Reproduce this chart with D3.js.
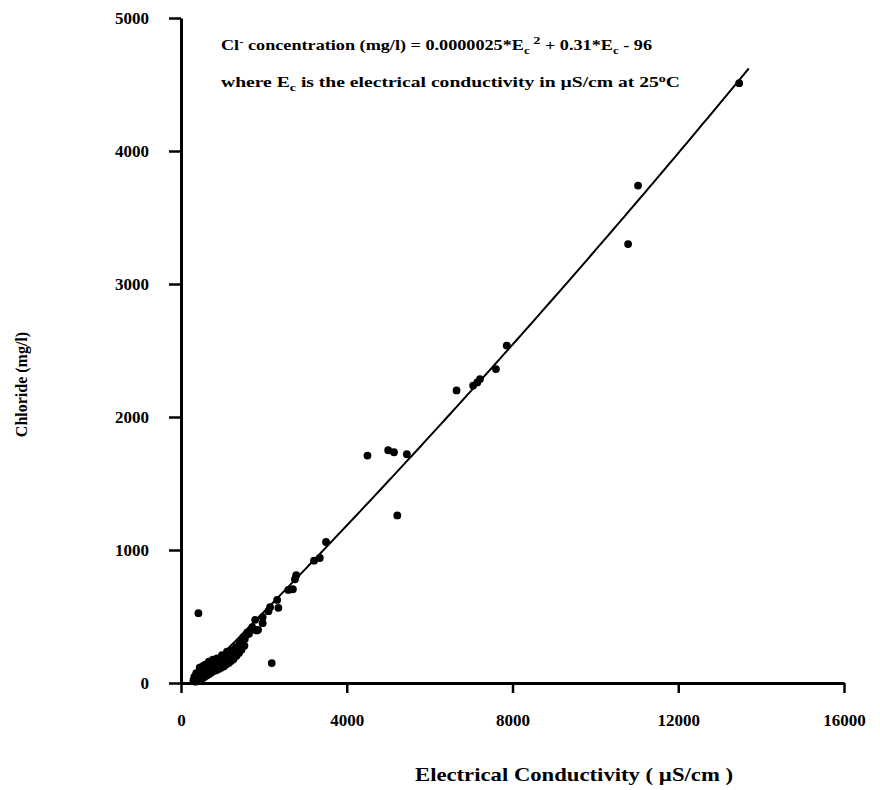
<!DOCTYPE html>
<meta charset="utf-8">
<head>
	<title> Chloride vs Conductivity </title>
	<style>
		body { margin: 0; background: #fff; }
		text { font-family: "Liberation Serif", "Times New Roman", serif; font-weight: bold; fill: #000; }
		.axis path, .axis line { stroke: #000; }
	</style>
</head>
<body>
	<div id="chart"></div>
</body>

<script src="https://cdnjs.cloudflare.com/ajax/libs/d3/7.8.5/d3.min.js"></script>

<script type="text/javascript">

	// Samples: electrical conductivity (uS/cm) and chloride (mg/l)
	var ecValues = [
		300, 320, 340, 360, 380, 400, 410, 430, 450, 460, 480, 500, 510, 530, 450, 520,
		550, 560, 580, 600, 600, 610, 630, 650, 660, 680, 680, 700, 720, 740, 760, 780,
		800, 820, 840, 860, 880, 900, 920, 940, 960, 980, 1000, 1020, 1040, 1060, 1080,
		1100, 1120, 1140, 1160, 1180, 1200, 1220, 1250, 1280, 1300, 1330, 1360, 1390,
		1420, 1450, 1480, 1510, 1540, 1570, 1600, 1640, 1680, 1720, 1780, 1830, 1790,
		1860, 1970, 1970, 2110, 2150, 2320, 2350, 2590, 2700, 2750, 2780, 3210, 3350,
		3500, 420, 2190, 4500, 5000, 5140, 5450, 5220, 6650, 7050, 7150, 7215, 7600,
		7860, 10790, 11030, 13470,
		// extra samples in the dense low range
		350, 390, 440, 490, 540, 590, 640, 690, 740, 790, 850, 910, 970, 1030, 1090,
		1150, 1210, 1270, 1340, 1400, 1460, 1530, 370, 470, 570, 670, 770, 870, 990, 1110
	];
	var clValues = [
		20, 45, 30, 60, 40, 70, 25, 55, 85, 40, 70, 95, 55, 80, 115, 125,
		110, 65, 95, 120, 140, 75, 100, 130, 85, 110, 150, 135, 95, 120, 145, 105,
		130, 150, 115, 140, 165, 130, 155, 175, 140, 165, 190, 155, 180, 200, 170,
		195, 215, 185, 210, 235, 200, 225, 245, 220, 250, 270, 250, 280,
		300, 290, 320, 345, 330, 360, 380, 370, 400, 420, 400, 395, 475,
		400, 450, 495, 540, 570, 625, 565, 700, 705, 780, 810, 920, 940,
		1060, 525, 150, 1710, 1750, 1735, 1720, 1260, 2200, 2236, 2260, 2285, 2360,
		2537, 3300, 3740, 4510,
		10, 15, 20, 30, 40, 50, 60, 70, 80, 90, 95, 105, 115, 125, 140,
		150, 165, 180, 205, 225, 250, 280, 75, 105, 135, 160, 175, 185, 210, 235
	];

	// Regression: Cl = a*Ec^2 + b*Ec + c
	var fitCoeffs = [0.0000025, 0.31, -96];
	var fitRange = [300, 13780];

	var xTicks = [0, 4000, 8000, 12000, 16000];
	var yTicks = [0, 1000, 2000, 3000, 4000, 5000];

	var width = 880;
	var height = 790;
	var margin = {top: 18, right: 36, bottom: 107, left: 181};

	var svg = d3.select("#chart").append("svg")
		.attr("width", width)
		.attr("height", height);

	var x = d3.scaleLinear().domain([0, 16000]).range([margin.left, width - margin.right]);
	var y = d3.scaleLinear().domain([0, 5000]).range([height - margin.bottom, margin.top]);

	// axes
	svg.append("g")
		.attr("class", "axis")
		.attr("transform", "translate(0," + y(0) + ")")
		.call(d3.axisBottom(x).tickValues(xTicks).tickSize(10).tickSizeOuter(0).tickPadding(21).tickFormat(d3.format("d")));

	svg.append("g")
		.attr("class", "axis")
		.attr("transform", "translate(" + x(0) + ",0)")
		.call(d3.axisLeft(y).tickValues(yTicks).tickSize(12).tickSizeOuter(0).tickPadding(20).tickFormat(d3.format("d")));

	svg.selectAll(".axis path").attr("stroke-width", 3);
	svg.selectAll(".axis line").attr("stroke-width", 2.5);
	svg.selectAll(".axis text").style("font-size", "17px");

	// fitted curve
	var fitX = d3.range(fitRange[0], fitRange[1] + 1, 100);
	var line = d3.line()
		.x(function (d) { return x(d); })
		.y(function (d) { return y(fitCoeffs[0] * d * d + fitCoeffs[1] * d + fitCoeffs[2]); });

	svg.append("path")
		.datum(fitX)
		.attr("d", line)
		.attr("fill", "none")
		.attr("stroke", "#000")
		.attr("stroke-width", 2);

	// points
	svg.selectAll("circle.pt")
		.data(ecValues)
		.enter()
		.append("circle")
		.attr("class", "pt")
		.attr("cx", function (d) { return x(d); })
		.attr("cy", function (d, i) { return y(clValues[i]); })
		.attr("r", 3.9)
		.attr("fill", "#000");

	// axis titles
	svg.append("text")
		.attr("x", 415)
		.attr("y", 781)
		.attr("textLength", 318)
		.attr("lengthAdjust", "spacingAndGlyphs")
		.style("font-size", "19px")
		.text("Electrical Conductivity ( \u00B5S/cm )");

	svg.append("text")
		.attr("transform", "translate(27," + (y(2500) + 34) + ") rotate(-90)")
		.attr("text-anchor", "middle")
		.style("font-size", "16px")
		.text("Chloride (mg/l)");

	// equation annotation
	var eq = svg.append("text")
		.attr("x", 221)
		.attr("y", 50)
		.attr("textLength", 431)
		.attr("lengthAdjust", "spacingAndGlyphs")
		.style("font-size", "14px");
	eq.append("tspan").text("Cl");
	eq.append("tspan").attr("dy", -5).style("font-size", "10px").text("-");
	eq.append("tspan").attr("dy", 5).text(" concentration (mg/l)  =  0.0000025*E");
	eq.append("tspan").attr("dy", 4).style("font-size", "10px").text("c");
	eq.append("tspan").attr("dy", -10).style("font-size", "11px").text(" 2");
	eq.append("tspan").attr("dy", 6).text("  +  0.31*E");
	eq.append("tspan").attr("dy", 4).style("font-size", "10px").text("c");
	eq.append("tspan").attr("dy", -4).text("   -   96");

	var eq2 = svg.append("text")
		.attr("x", 221)
		.attr("y", 87)
		.attr("textLength", 459)
		.attr("lengthAdjust", "spacingAndGlyphs")
		.style("font-size", "14px");
	eq2.append("tspan").text("where E");
	eq2.append("tspan").attr("dy", 4).style("font-size", "10px").text("c");
	eq2.append("tspan").attr("dy", -4).text(" is the electrical conductivity in \u00B5S/cm at 25");
	eq2.append("tspan").attr("dy", -5).style("font-size", "10px").text("o");
	eq2.append("tspan").attr("dy", 5).text("C");

</script>
</html>
